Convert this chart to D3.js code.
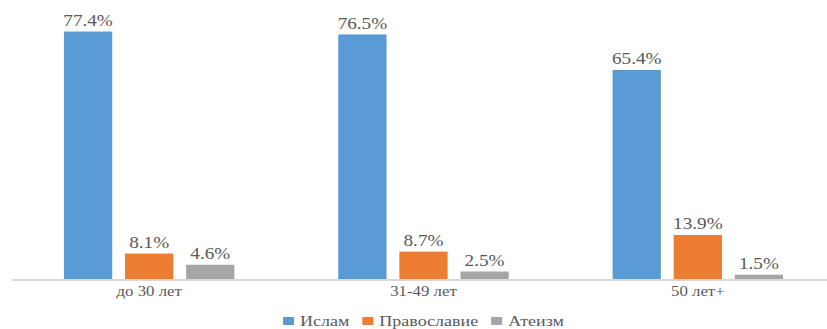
<!DOCTYPE html>
<html><head><meta charset="utf-8">
<script src="https://cdn.jsdelivr.net/npm/d3@7/dist/d3.min.js"></script>
<style>html,body{margin:0;padding:0;background:#fff;overflow:hidden}</style>
</head><body>
<svg id="chart" width="827" height="329"></svg>
<script>
const categories = ["до 30 лет", "31-49 лет", "50 лет+"];
const seriesNames = ["Ислам", "Православие", "Атеизм"];
const islam = [77.4, 76.5, 65.4];
const orthodoxy = [8.1, 8.7, 13.9];
const atheism = [4.6, 2.5, 1.5];
const colors = ["#5B9BD5", "#ED7D31", "#A5A5A5"];

const seriesValues = [islam, orthodoxy, atheism];
const svg = d3.select("#chart");
const textColor = "#595959";
const fontFamily = "'Liberation Serif', 'DejaVu Serif', serif";
const sx = 1.2;

const x0 = d3.scaleBand().domain(categories).range([12, 835]);
const x1 = d3.scaleBand().domain(seriesNames).range([0, x0.bandwidth()])
  .paddingInner(0.21).paddingOuter(0.85);
const y = d3.scaleLinear().domain([0, 80]).range([279.5, 23.2]);

const data = [];
categories.forEach((c, i) => seriesNames.forEach((s, j) => data.push({c, s, j, v: seriesValues[j][i]})));

svg.append("g").selectAll("rect").data(data).join("rect")
  .attr("x", d => x0(d.c) + x1(d.s))
  .attr("y", d => y(d.v))
  .attr("width", x1.bandwidth())
  .attr("height", d => y(0) - y(d.v))
  .attr("fill", d => colors[d.j]);

svg.append("line").attr("x1", 12).attr("x2", 827).attr("y1", 280).attr("y2", 280)
  .attr("stroke", "#d9d9d9").attr("stroke-width", 2);

svg.append("g").selectAll("text").data(data).join("text")
  .attr("transform", d => `translate(${x0(d.c) + x1(d.s) + x1.bandwidth()/2},${y(d.v) - 5.5}) scale(${sx},1)`)
  .attr("text-anchor", "middle")
  .style("font-family", fontFamily).style("font-size", "16px").attr("fill", textColor)
  .text(d => d.v.toFixed(1) + "%");

svg.append("g").selectAll("text").data(categories).join("text")
  .attr("transform", c => `translate(${x0(c) + x0.bandwidth()/2},296) scale(${sx},1)`)
  .attr("text-anchor", "middle")
  .style("font-family", fontFamily).style("font-size", "14px").attr("fill", textColor)
  .text(c => c);

const lg = svg.append("g");
const items = seriesNames.map((s, j) => {
  const g = lg.append("g");
  g.append("rect").attr("x", 0).attr("y", 317).attr("width", 11).attr("height", 8).attr("fill", colors[j]);
  const t = g.append("text").style("font-family", fontFamily).style("font-size", "15px").attr("fill", textColor)
    .attr("transform", `translate(17,325.5) scale(${sx},1)`).text(s);
  const w = 17 + t.node().getComputedTextLength() * sx;
  return {g, w};
});
const gap = 13;
const total = d3.sum(items, d => d.w) + gap * (items.length - 1);
let cx = (12 + 835) / 2 - total / 2;
items.forEach(it => { it.g.attr("transform", `translate(${cx},0)`); cx += it.w + gap; });
</script>
</body></html>
